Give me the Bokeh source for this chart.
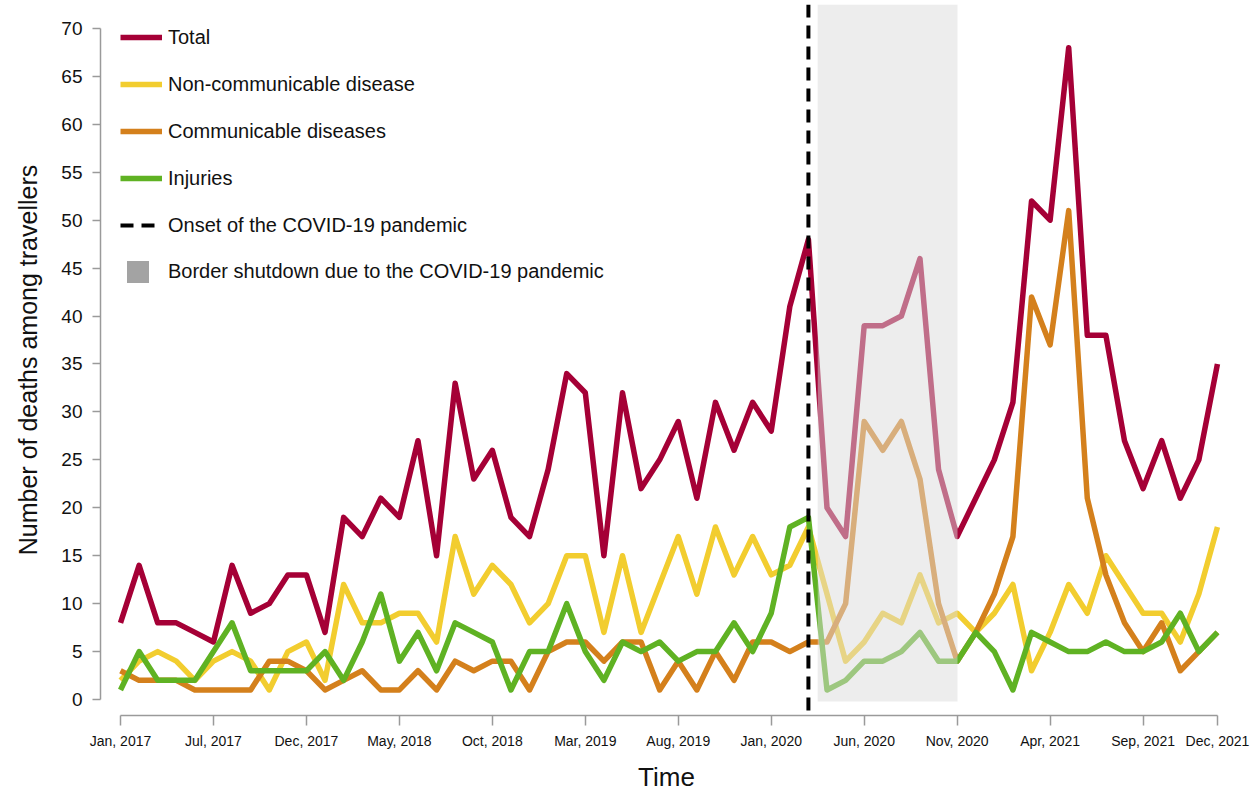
from bokeh.plotting import figure
from bokeh.models import (BoxAnnotation, Span, Legend, LegendItem, FixedTicker,
                          ColumnDataSource, Range1d)
from bokeh.embed import file_html
from bokeh.resources import INLINE

# ---------------- data ----------------
months = list(range(60))  # Jan 2017 .. Dec 2021 (monthly index)
tick_positions = [0, 5, 10, 15, 20, 25, 30, 35, 40, 45, 50, 55, 59]
tick_labels = ["Jan, 2017", "Jul, 2017", "Dec, 2017", "May, 2018", "Oct, 2018",
               "Mar, 2019", "Aug, 2019", "Jan, 2020", "Jun, 2020", "Nov, 2020",
               "Apr, 2021", "Sep, 2021", "Dec, 2021"]
y_ticks = list(range(0, 71, 5))

total = [8, 14, 8, 8, 7, 6, 14, 9, 10, 13,
         13, 7, 19, 17, 21, 19, 27, 15, 33, 23,
         26, 19, 17, 24, 34, 32, 15, 32, 22, 25,
         29, 21, 31, 26, 31, 28, 41, 48, 20, 17,
         39, 39, 40, 46, 24, 17, 21, 25, 31, 52,
         50, 68, 38, 38, 27, 22, 27, 21, 25, 35]
non_communicable = [2, 4, 5, 4, 2, 4, 5, 4, 1, 5,
                    6, 2, 12, 8, 8, 9, 9, 6, 17, 11,
                    14, 12, 8, 10, 15, 15, 7, 15, 7, 12,
                    17, 11, 18, 13, 17, 13, 14, 18, 11, 4,
                    6, 9, 8, 13, 8, 9, 7, 9, 12, 3,
                    7, 12, 9, 15, 12, 9, 9, 6, 11, 18]
communicable = [3, 2, 2, 2, 1, 1, 1, 1, 4, 4,
                3, 1, 2, 3, 1, 1, 3, 1, 4, 3,
                4, 4, 1, 5, 6, 6, 4, 6, 6, 1,
                4, 1, 5, 2, 6, 6, 5, 6, 6, 10,
                29, 26, 29, 23, 10, 4, 7, 11, 17, 42,
                37, 51, 21, 13, 8, 5, 8, 3, 5, 7]
injuries = [1, 5, 2, 2, 2, 5, 8, 3, 3, 3,
            3, 5, 2, 6, 11, 4, 7, 3, 8, 7,
            6, 1, 5, 5, 10, 5, 2, 6, 5, 6,
            4, 5, 5, 8, 5, 9, 18, 19, 1, 2,
            4, 4, 5, 7, 4, 4, 7, 5, 1, 7,
            6, 5, 5, 6, 5, 5, 6, 9, 5, 7]

onset_month = 37          # onset of the COVID-19 pandemic
shutdown_start = 37.5     # border shutdown period
shutdown_end = 45.02

series_names = ["Total", "Non-communicable disease", "Communicable diseases", "Injuries"]
series_colors = ["#A50036", "#F2CD2F", "#D4801C", "#5FB223"]

FONT = "Liberation Sans"
TXT = "#111111"

# ---------------- figure ----------------
p = figure(width=1257, height=794,
           x_range=Range1d(-1.0757, 59.81), y_range=Range1d(-1.667, 72.5),
           output_backend="svg", toolbar_location=None,
           min_border_left=100, min_border_right=25, min_border_top=4,
           min_border_bottom=78)
p.xgrid.visible = False
p.ygrid.visible = False
p.outline_line_color = None
p.background_fill_color = "white"

renderers = []
for vals, color in zip([total, non_communicable, communicable, injuries], series_colors):
    src = ColumnDataSource(data=dict(x=months, y=vals))
    r = p.line("x", "y", source=src, line_width=5.5, line_color=color, line_join="round")
    renderers.append(r)

# invisible renderers used only for legend entries
nan = float("nan")
dash_r = p.line("x", "y", source=ColumnDataSource(data=dict(x=[nan], y=[nan])),
                line_color="black", line_width=4, line_dash="13 8")
sq_r = p.scatter("x", "y", source=ColumnDataSource(data=dict(x=[nan], y=[nan])),
                 marker="square", fill_color="#A3A3A3", line_color=None)

p.add_layout(Span(location=onset_month, dimension="height", line_color="black",
                  line_width=4, line_dash="13 8"))
p.add_layout(BoxAnnotation(left=shutdown_start, right=shutdown_end, bottom=-0.2,
                           fill_color="#DCDCDC", fill_alpha=0.5, line_color=None))

# axes
xa = p.xaxis[0]
xa.ticker = FixedTicker(ticks=tick_positions)
xa.major_label_overrides = {t: l for t, l in zip(tick_positions, tick_labels)}
xa.bounds = (0, 59)
xa.axis_line_color = "#9a9a9a"
xa.axis_line_width = 1.5
xa.major_tick_line_color = "#9a9a9a"
xa.major_tick_line_width = 1.5
xa.major_tick_out = 10
xa.major_tick_in = 0
xa.minor_tick_out = 0
xa.minor_tick_in = 0
xa.major_label_text_font = FONT
xa.major_label_text_font_size = "14px"
xa.major_label_text_color = TXT
xa.major_label_standoff = 7
xa.axis_label = "Time"
xa.axis_label_text_font = FONT
xa.axis_label_text_font_size = "26px"
xa.axis_label_text_font_style = "normal"
xa.axis_label_text_color = TXT
xa.axis_label_standoff = 10

ya = p.yaxis[0]
ya.ticker = FixedTicker(ticks=y_ticks)
ya.bounds = (0, 70)
ya.axis_line_color = "#9a9a9a"
ya.axis_line_width = 1.5
ya.major_tick_line_color = "#9a9a9a"
ya.major_tick_line_width = 1.5
ya.major_tick_out = 8
ya.major_tick_in = 0
ya.minor_tick_out = 0
ya.minor_tick_in = 0
ya.major_label_text_font = FONT
ya.major_label_text_font_size = "19px"
ya.major_label_text_color = TXT
ya.major_label_standoff = 10
ya.axis_label = "Number of deaths among travellers"
ya.axis_label_text_font = FONT
ya.axis_label_text_font_size = "25px"
ya.axis_label_text_font_style = "normal"
ya.axis_label_text_color = TXT
ya.axis_label_standoff = 16

# legends
items1 = [LegendItem(label=n, renderers=[r]) for n, r in zip(series_names, renderers)]
items1.append(LegendItem(label="Onset of the COVID-19 pandemic", renderers=[dash_r]))
leg1 = Legend(items=items1, location=(20, 475), margin=0, padding=0,
              glyph_width=42, glyph_height=30, label_height=30, spacing=17,
              label_standoff=6, label_text_font=FONT, label_text_font_size="20px",
              label_text_color=TXT,
              background_fill_alpha=0, border_line_color=None)
leg2 = Legend(items=[LegendItem(label="Border shutdown due to the COVID-19 pandemic",
                                renderers=[sq_r])],
              location=(10, 416), margin=0, padding=0,
              glyph_width=55, glyph_height=55, label_height=30, spacing=0,
              label_standoff=3, label_text_font=FONT, label_text_font_size="20px",
              label_text_color=TXT,
              background_fill_alpha=0, border_line_color=None)
p.add_layout(leg1, "center")
p.add_layout(leg2, "center")

open("out.html", "w").write(file_html(p, INLINE))
